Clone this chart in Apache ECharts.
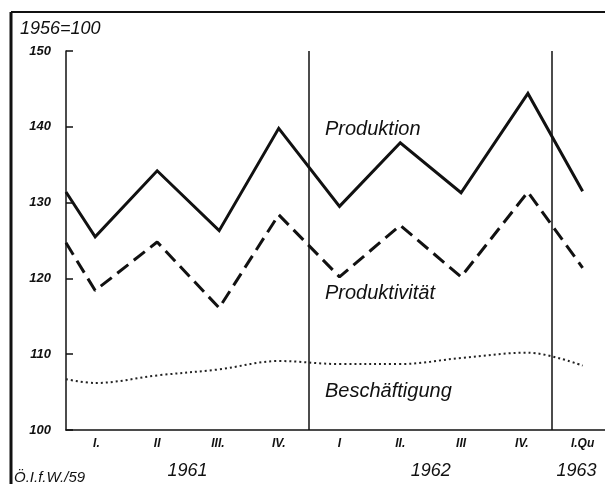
<!DOCTYPE html>
<html>
<head>
<meta charset="utf-8">
<script src="https://cdn.jsdelivr.net/npm/echarts@6/dist/echarts.min.js"></script>
<style>
  html, body { margin: 0; padding: 0; background: #fff; }
</style>
</head>
<body>
<div id="chart" style="width:605px;height:484px"></div>
<script>
// quarter labels under the axis
const quarterLabels = ['I.', 'II', 'III.', 'IV.', 'I', 'II.', 'III', 'IV.', 'I.Qu']
// x positions in quarters from start of 1961 (first point = where lines leave the axis)
const quarterPos = [0, 0.48, 1.5, 2.52, 3.5, 4.5, 5.5, 6.5, 7.6, 8.5]
const produktion = [131.4, 125.5, 134.2, 126.3, 139.8, 129.5, 137.9, 131.3, 144.4, 131.5]
const produktivitaet = [124.7, 118.4, 124.8, 116.1, 128.4, 120.2, 127.0, 120.2, 131.4, 121.4]
const beschaeftigung = [106.7, 106.2, 107.2, 108.0, 109.1, 108.7, 108.7, 109.5, 110.2, 108.5]
// year labels: centre position (in tenths of a quarter) -> text
const yearLabels = { 20: '1961', 60: '1962', 84: '1963' }

const font = 'Liberation Sans'
const ink = '#111'

const pairs = (ys) => ys.map((v, i) => [quarterPos[i], v])

const chart = echarts.init(document.getElementById('chart'))
chart.setOption({
  backgroundColor: '#fff',
  animation: false,
  grid: { left: 66, top: 51, bottom: 54, width: 547, outerBoundsMode: 'none', containLabel: false },
  title: {
    text: '1956=100',
    left: 15,
    top: 15,
    textStyle: { fontFamily: font, fontStyle: 'italic', fontWeight: 'normal', fontSize: 18, color: ink }
  },
  xAxis: [
    {
      type: 'category',
      data: quarterLabels,
      boundaryGap: true,
      axisLine: { lineStyle: { color: ink, width: 1.5 } },
      axisTick: { inside: true, length: 8, interval: 0, lineStyle: { color: ink, width: 1.5 } },
      axisLabel: {
        interval: 0, margin: 8, color: ink,
        fontFamily: font, fontStyle: 'italic', fontWeight: 'bold', fontSize: 12
      },
      splitLine: {
        show: true,
        interval: (i) => i === 4 || i === 8,
        lineStyle: { color: ink, width: 1.5 }
      }
    },
    {
      type: 'value',
      min: 0,
      max: 9,
      show: false
    },
    {
      type: 'value',
      min: 0,
      max: 9,
      interval: 0.1,
      position: 'bottom',
      axisLine: { show: false },
      axisTick: { show: false },
      splitLine: { show: false },
      axisLabel: {
        margin: 32,
        color: ink,
        fontFamily: font, fontStyle: 'italic', fontSize: 18,
        showMinLabel: false, showMaxLabel: false,
        formatter: (v) => yearLabels[Math.round(v * 10)] || ''
      }
    },
    {
      type: 'category',
      data: quarterLabels,
      boundaryGap: true,
      axisLine: { show: false },
      axisLabel: { show: false },
      axisTick: {
        inside: true, length: 13,
        interval: (i) => i === 2 || i === 6,
        lineStyle: { color: ink, width: 1.5 }
      }
    }
  ],
  yAxis: {
    type: 'value',
    min: 100,
    max: 150,
    interval: 10,
    axisLine: { show: true, lineStyle: { color: ink, width: 1.5 } },
    axisTick: { show: true, inside: true, length: 7, lineStyle: { color: ink, width: 1.5 } },
    axisLabel: {
      margin: 15, color: ink,
      fontFamily: font, fontStyle: 'italic', fontWeight: 'bold', fontSize: 13
    },
    splitLine: { show: false }
  },
  series: [
    {
      name: 'Produktion',
      type: 'line',
      xAxisIndex: 1,
      data: pairs(produktion),
      symbol: 'none',
      lineStyle: { color: ink, width: 3, join: 'miter' }
    },
    {
      name: 'Produktivität',
      type: 'line',
      xAxisIndex: 1,
      data: pairs(produktivitaet),
      symbol: 'none',
      lineStyle: { color: ink, width: 3, type: [14, 7] }
    },
    {
      name: 'Beschäftigung',
      type: 'line',
      xAxisIndex: 1,
      data: pairs(beschaeftigung),
      smooth: 0.35,
      symbol: 'none',
      lineStyle: { color: '#222', width: 2, type: [2, 3] }
    }
  ],
  graphic: [
    { type: 'line', shape: { x1: 11, y1: 12, x2: 605, y2: 12 }, style: { stroke: ink, lineWidth: 2 } },
    { type: 'line', shape: { x1: 11, y1: 12, x2: 11, y2: 484 }, style: { stroke: ink, lineWidth: 3 } },
    {
      type: 'text', left: 325, top: 119,
      style: { text: 'Produktion', fill: ink, font: 'italic 20px "Liberation Sans"' }
    },
    {
      type: 'text', left: 325, top: 283,
      style: { text: 'Produktivität', fill: ink, font: 'italic 20px "Liberation Sans"' }
    },
    {
      type: 'text', left: 325, top: 381,
      style: { text: 'Beschäftigung', fill: ink, font: 'italic 20px "Liberation Sans"' }
    },
    {
      type: 'text', left: 14, top: 470,
      style: { text: 'Ö.I.f.W./59', fill: ink, font: 'italic 15px "Liberation Sans"' }
    }
  ]
})
</script>
</body>
</html>
